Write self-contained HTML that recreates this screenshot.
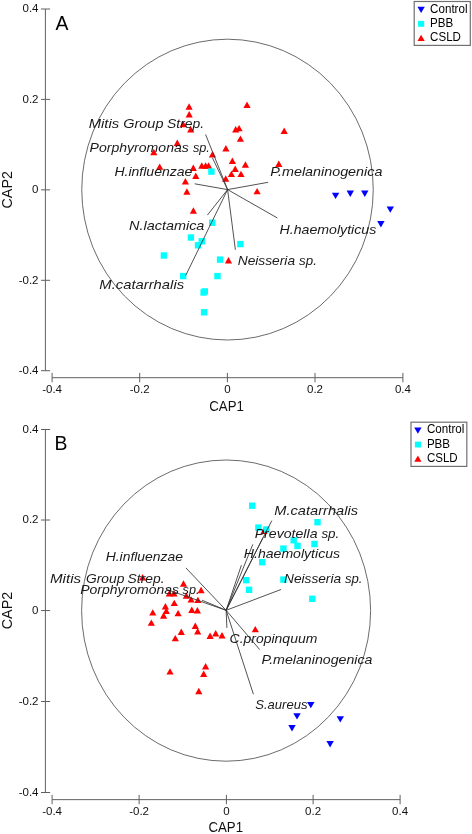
<!DOCTYPE html>
<html><head><meta charset="utf-8"><title>CAP ordination</title>
<style>
html,body{margin:0;padding:0;background:#fff}
svg{display:block;will-change:transform;opacity:0.999}
text{font-family:"Liberation Sans",sans-serif;fill:#111}
.tk{font-size:11.5px}
.al{font-size:14px}
.pl{font-size:19.4px;fill:#000}
.lg{font-size:12px;fill:#000}
.sp{font-size:13.6px;font-style:italic;fill:#1a1a1a}
</style></head><body>
<svg width="472" height="834" viewBox="0 0 472 834">
<rect width="472" height="834" fill="#fff"/>
<g id="panelA">
<line x1="45.4" y1="9.0" x2="45.4" y2="370.7" stroke="#606060" stroke-width="1.0" fill="none"/>
<line x1="41.0" y1="9.0" x2="50.1" y2="9.0" stroke="#606060" stroke-width="1.0" fill="none"/>
<text class="tk" x="38.5" y="12.4" text-anchor="end">0.4</text>
<line x1="41.0" y1="99.4" x2="50.1" y2="99.4" stroke="#606060" stroke-width="1.0" fill="none"/>
<text class="tk" x="38.5" y="102.8" text-anchor="end">0.2</text>
<line x1="41.0" y1="189.85" x2="50.1" y2="189.85" stroke="#606060" stroke-width="1.0" fill="none"/>
<text class="tk" x="38.5" y="193.2" text-anchor="end">0</text>
<line x1="41.0" y1="280.3" x2="50.1" y2="280.3" stroke="#606060" stroke-width="1.0" fill="none"/>
<text class="tk" x="38.5" y="283.7" text-anchor="end">-0.2</text>
<line x1="41.0" y1="370.7" x2="50.1" y2="370.7" stroke="#606060" stroke-width="1.0" fill="none"/>
<text class="tk" x="38.5" y="374.1" text-anchor="end">-0.4</text>
<line x1="52.1" y1="377.7" x2="402.9" y2="377.7" stroke="#606060" stroke-width="1.0" fill="none"/>
<line x1="52.1" y1="372.9" x2="52.1" y2="382.3" stroke="#606060" stroke-width="1.0" fill="none"/>
<text class="tk" x="52.1" y="392.9" text-anchor="middle">-0.4</text>
<line x1="139.7" y1="372.9" x2="139.7" y2="382.3" stroke="#606060" stroke-width="1.0" fill="none"/>
<text class="tk" x="139.7" y="392.9" text-anchor="middle">-0.2</text>
<line x1="227.4" y1="372.9" x2="227.4" y2="382.3" stroke="#606060" stroke-width="1.0" fill="none"/>
<text class="tk" x="227.4" y="392.9" text-anchor="middle">0</text>
<line x1="315.0" y1="372.9" x2="315.0" y2="382.3" stroke="#606060" stroke-width="1.0" fill="none"/>
<text class="tk" x="315.0" y="392.9" text-anchor="middle">0.2</text>
<line x1="402.9" y1="372.9" x2="402.9" y2="382.3" stroke="#606060" stroke-width="1.0" fill="none"/>
<text class="tk" x="402.9" y="392.9" text-anchor="middle">0.4</text>
<text class="al" x="209.3" y="410.5" textLength="34.5" lengthAdjust="spacingAndGlyphs">CAP1</text>
<text class="al" transform="translate(11.8,208.5) rotate(-90)" textLength="37.5" lengthAdjust="spacingAndGlyphs">CAP2</text>
<text class="pl" x="55.6" y="29.7">A</text>
<ellipse cx="227.5" cy="189.6" rx="145.75" ry="150.4" stroke="#5a5a5a" stroke-width="0.9" fill="none"/>
<path d="M185.5 109.7L192.7 109.7L189.1 103.3Z" fill="#ff0000"/>
<path d="M185.6 117.4L192.8 117.4L189.2 111.0Z" fill="#ff0000"/>
<path d="M179.6 127.2L186.8 127.2L183.2 120.8Z" fill="#ff0000"/>
<path d="M187.1 132.5L194.3 132.5L190.7 126.1Z" fill="#ff0000"/>
<path d="M243.4 107.9L250.6 107.9L247.0 101.5Z" fill="#ff0000"/>
<path d="M232.1 132.4L239.3 132.4L235.7 126.0Z" fill="#ff0000"/>
<path d="M235.5 131.3L242.7 131.3L239.1 124.9Z" fill="#ff0000"/>
<path d="M236.8 141.8L244.0 141.8L240.4 135.4Z" fill="#ff0000"/>
<path d="M222.3 151.4L229.5 151.4L225.9 145.0Z" fill="#ff0000"/>
<path d="M173.7 146.0L180.9 146.0L177.3 139.6Z" fill="#ff0000"/>
<path d="M150.2 155.2L157.4 155.2L153.8 148.8Z" fill="#ff0000"/>
<path d="M156.1 169.8L163.3 169.8L159.7 163.4Z" fill="#ff0000"/>
<path d="M208.9 157.5L216.1 157.5L212.5 151.1Z" fill="#ff0000"/>
<path d="M228.8 163.9L236.0 163.9L232.4 157.5Z" fill="#ff0000"/>
<path d="M241.8 167.7L249.0 167.7L245.4 161.3Z" fill="#ff0000"/>
<path d="M231.6 172.0L238.8 172.0L235.2 165.6Z" fill="#ff0000"/>
<path d="M227.8 177.1L235.0 177.1L231.4 170.7Z" fill="#ff0000"/>
<path d="M237.4 177.1L244.6 177.1L241.0 170.7Z" fill="#ff0000"/>
<path d="M222.1 181.7L229.3 181.7L225.7 175.3Z" fill="#ff0000"/>
<path d="M198.2 168.7L205.4 168.7L201.8 162.3Z" fill="#ff0000"/>
<path d="M202.0 168.7L209.2 168.7L205.6 162.3Z" fill="#ff0000"/>
<path d="M205.0 168.7L212.2 168.7L208.6 162.3Z" fill="#ff0000"/>
<path d="M189.7 171.0L196.9 171.0L193.3 164.6Z" fill="#ff0000"/>
<path d="M192.2 178.9L199.4 178.9L195.8 172.5Z" fill="#ff0000"/>
<path d="M181.8 184.4L189.0 184.4L185.4 178.0Z" fill="#ff0000"/>
<path d="M183.3 194.7L190.5 194.7L186.9 188.3Z" fill="#ff0000"/>
<path d="M253.5 194.3L260.7 194.3L257.1 187.9Z" fill="#ff0000"/>
<path d="M280.6 133.9L287.8 133.9L284.2 127.5Z" fill="#ff0000"/>
<path d="M275.2 166.9L282.4 166.9L278.8 160.5Z" fill="#ff0000"/>
<path d="M189.8 213.7L197.0 213.7L193.4 207.3Z" fill="#ff0000"/>
<path d="M224.9 263.5L232.1 263.5L228.5 257.1Z" fill="#ff0000"/>
<rect x="208.2" y="168.4" width="6.4" height="6.4" fill="#00ffff"/>
<rect x="209.0" y="219.5" width="6.4" height="6.4" fill="#00ffff"/>
<rect x="187.7" y="234.3" width="6.4" height="6.4" fill="#00ffff"/>
<rect x="198.6" y="238.1" width="6.4" height="6.4" fill="#00ffff"/>
<rect x="194.8" y="242.1" width="6.4" height="6.4" fill="#00ffff"/>
<rect x="160.7" y="252.3" width="6.4" height="6.4" fill="#00ffff"/>
<rect x="237.2" y="240.9" width="6.4" height="6.4" fill="#00ffff"/>
<rect x="216.9" y="256.4" width="6.4" height="6.4" fill="#00ffff"/>
<rect x="180.0" y="272.9" width="6.4" height="6.4" fill="#00ffff"/>
<rect x="214.3" y="272.9" width="6.4" height="6.4" fill="#00ffff"/>
<rect x="200.4" y="289.3" width="6.4" height="6.4" fill="#00ffff"/>
<rect x="201.6" y="288.2" width="6.4" height="6.4" fill="#00ffff"/>
<rect x="200.9" y="309.1" width="6.4" height="6.4" fill="#00ffff"/>
<path d="M331.9 192.7L339.3 192.7L335.6 199.0Z" fill="#0000ff"/>
<path d="M346.6 190.6L354.0 190.6L350.3 196.9Z" fill="#0000ff"/>
<path d="M361.1 190.6L368.5 190.6L364.8 196.9Z" fill="#0000ff"/>
<path d="M386.6 206.4L394.0 206.4L390.3 212.7Z" fill="#0000ff"/>
<path d="M377.2 221.1L384.6 221.1L380.9 227.4Z" fill="#0000ff"/>
<line x1="227.6" y1="189.6" x2="185.8" y2="275.3" stroke="#333" stroke-width="0.85"/>
<line x1="227.6" y1="189.6" x2="207.4" y2="215.1" stroke="#333" stroke-width="0.85"/>
<line x1="227.6" y1="189.6" x2="235.4" y2="249.8" stroke="#333" stroke-width="0.85"/>
<line x1="227.6" y1="189.6" x2="194.7" y2="183.8" stroke="#333" stroke-width="0.85"/>
<line x1="227.6" y1="189.6" x2="268.1" y2="182.3" stroke="#333" stroke-width="0.85"/>
<line x1="227.6" y1="189.6" x2="277.4" y2="218" stroke="#333" stroke-width="0.85"/>
<line x1="227.6" y1="189.6" x2="205.6" y2="134.5" stroke="#333" stroke-width="0.85"/>
<line x1="227.6" y1="189.6" x2="212.5" y2="158" stroke="#333" stroke-width="0.85"/>
<text class="sp" y="127.8"><tspan x="88.7" textLength="30.4" lengthAdjust="spacingAndGlyphs">Mitis</tspan> <tspan x="123.2" textLength="40.3" lengthAdjust="spacingAndGlyphs">Group</tspan> <tspan x="167.0" textLength="37.1" lengthAdjust="spacingAndGlyphs">Strep.</tspan></text>
<text class="sp" y="151.6"><tspan x="89.6" textLength="99.2" lengthAdjust="spacingAndGlyphs">Porphyromonas</tspan> <tspan x="192.9" textLength="17.0" lengthAdjust="spacingAndGlyphs">sp.</tspan></text>
<text class="sp" x="114.4" y="176.3" textLength="78.0" lengthAdjust="spacingAndGlyphs">H.influenzae</text>
<text class="sp" x="270.3" y="176.2" textLength="112.1" lengthAdjust="spacingAndGlyphs">P.melaninogenica</text>
<text class="sp" x="279.5" y="234.2" textLength="96.8" lengthAdjust="spacingAndGlyphs">H.haemolyticus</text>
<text class="sp" x="129.0" y="230" textLength="75.4" lengthAdjust="spacingAndGlyphs">N.lactamica</text>
<text class="sp" y="265.1"><tspan x="237.7" textLength="57.4" lengthAdjust="spacingAndGlyphs">Neisseria</tspan> <tspan x="299.1" textLength="17.8" lengthAdjust="spacingAndGlyphs">sp.</tspan></text>
<text class="sp" x="99.3" y="289" textLength="84.8" lengthAdjust="spacingAndGlyphs">M.catarrhalis</text>
<rect x="414.2" y="1.5" width="56.1" height="43.9" fill="#fff" stroke="#707070" stroke-width="1.2"/>
<path d="M417.4 6.8L424.8 6.8L421.1 13.1Z" fill="#0000ff"/>
<rect x="418.1" y="20.9" width="6.1" height="5.9" fill="#00ffff"/>
<path d="M417.5 41.1L424.7 41.1L421.1 34.7Z" fill="#ff0000"/>
<text class="lg" x="430.1" y="12.7" textLength="37.4" lengthAdjust="spacingAndGlyphs">Control</text>
<text class="lg" x="430.1" y="26.8" textLength="23.2" lengthAdjust="spacingAndGlyphs">PBB</text>
<text class="lg" x="430.1" y="41.4" textLength="30.8" lengthAdjust="spacingAndGlyphs">CSLD</text>
</g>
<g id="panelB">
<line x1="45.4" y1="429.5" x2="45.4" y2="792.5" stroke="#606060" stroke-width="1.0" fill="none"/>
<line x1="41.0" y1="429.5" x2="50.1" y2="429.5" stroke="#606060" stroke-width="1.0" fill="none"/>
<text class="tk" x="38.5" y="432.9" text-anchor="end">0.4</text>
<line x1="41.0" y1="520.0" x2="50.1" y2="520.0" stroke="#606060" stroke-width="1.0" fill="none"/>
<text class="tk" x="38.5" y="523.4" text-anchor="end">0.2</text>
<line x1="41.0" y1="610.55" x2="50.1" y2="610.55" stroke="#606060" stroke-width="1.0" fill="none"/>
<text class="tk" x="38.5" y="613.9" text-anchor="end">0</text>
<line x1="41.0" y1="701.5" x2="50.1" y2="701.5" stroke="#606060" stroke-width="1.0" fill="none"/>
<text class="tk" x="38.5" y="704.9" text-anchor="end">-0.2</text>
<line x1="41.0" y1="792.5" x2="50.1" y2="792.5" stroke="#606060" stroke-width="1.0" fill="none"/>
<text class="tk" x="38.5" y="795.9" text-anchor="end">-0.4</text>
<line x1="52.1" y1="799.65" x2="400.1" y2="799.65" stroke="#606060" stroke-width="1.0" fill="none"/>
<line x1="52.1" y1="794.85" x2="52.1" y2="804.25" stroke="#606060" stroke-width="1.0" fill="none"/>
<text class="tk" x="52.1" y="814.9" text-anchor="middle">-0.4</text>
<line x1="139.1" y1="794.85" x2="139.1" y2="804.25" stroke="#606060" stroke-width="1.0" fill="none"/>
<text class="tk" x="139.1" y="814.9" text-anchor="middle">-0.2</text>
<line x1="226.4" y1="794.85" x2="226.4" y2="804.25" stroke="#606060" stroke-width="1.0" fill="none"/>
<text class="tk" x="226.4" y="814.9" text-anchor="middle">0</text>
<line x1="313.1" y1="794.85" x2="313.1" y2="804.25" stroke="#606060" stroke-width="1.0" fill="none"/>
<text class="tk" x="313.1" y="814.9" text-anchor="middle">0.2</text>
<line x1="400.1" y1="794.85" x2="400.1" y2="804.25" stroke="#606060" stroke-width="1.0" fill="none"/>
<text class="tk" x="400.1" y="814.9" text-anchor="middle">0.4</text>
<text class="al" x="208.5" y="832.0" textLength="34.5" lengthAdjust="spacingAndGlyphs">CAP1</text>
<text class="al" transform="translate(11.8,629.3) rotate(-90)" textLength="37.5" lengthAdjust="spacingAndGlyphs">CAP2</text>
<text class="pl" x="54.6" y="450.0">B</text>
<ellipse cx="226.1" cy="610.6" rx="144.5" ry="150.6" stroke="#5a5a5a" stroke-width="0.9" fill="none"/>
<path d="M139.0 580.5L146.2 580.5L142.6 574.1Z" fill="#ff0000"/>
<path d="M179.9 586.7L187.1 586.7L183.5 580.3Z" fill="#ff0000"/>
<path d="M197.5 593.2L204.7 593.2L201.1 586.8Z" fill="#ff0000"/>
<path d="M165.7 596.6L172.9 596.6L169.3 590.2Z" fill="#ff0000"/>
<path d="M170.4 596.6L177.6 596.6L174.0 590.2Z" fill="#ff0000"/>
<path d="M182.7 598.7L189.9 598.7L186.3 592.3Z" fill="#ff0000"/>
<path d="M187.5 602.6L194.7 602.6L191.1 596.2Z" fill="#ff0000"/>
<path d="M194.3 603.1L201.5 603.1L197.9 596.7Z" fill="#ff0000"/>
<path d="M170.7 606.1L177.9 606.1L174.3 599.7Z" fill="#ff0000"/>
<path d="M161.8 609.4L169.0 609.4L165.4 603.0Z" fill="#ff0000"/>
<path d="M188.2 612.9L195.4 612.9L191.8 606.5Z" fill="#ff0000"/>
<path d="M193.8 613.4L201.0 613.4L197.4 607.0Z" fill="#ff0000"/>
<path d="M149.2 615.6L156.4 615.6L152.8 609.2Z" fill="#ff0000"/>
<path d="M162.7 614.0L169.9 614.0L166.3 607.6Z" fill="#ff0000"/>
<path d="M160.0 618.7L167.2 618.7L163.6 612.3Z" fill="#ff0000"/>
<path d="M174.5 616.3L181.7 616.3L178.1 609.9Z" fill="#ff0000"/>
<path d="M147.7 625.8L154.9 625.8L151.3 619.4Z" fill="#ff0000"/>
<path d="M191.7 629.0L198.9 629.0L195.3 622.6Z" fill="#ff0000"/>
<path d="M194.1 634.4L201.3 634.4L197.7 628.0Z" fill="#ff0000"/>
<path d="M177.7 635.0L184.9 635.0L181.3 628.6Z" fill="#ff0000"/>
<path d="M171.7 641.3L178.9 641.3L175.3 634.9Z" fill="#ff0000"/>
<path d="M206.5 639.0L213.7 639.0L210.1 632.6Z" fill="#ff0000"/>
<path d="M212.1 636.5L219.3 636.5L215.7 630.1Z" fill="#ff0000"/>
<path d="M218.4 638.4L225.6 638.4L222.0 632.0Z" fill="#ff0000"/>
<path d="M251.7 632.3L258.9 632.3L255.3 625.9Z" fill="#ff0000"/>
<path d="M202.0 669.4L209.2 669.4L205.6 663.0Z" fill="#ff0000"/>
<path d="M200.1 677.0L207.3 677.0L203.7 670.6Z" fill="#ff0000"/>
<path d="M195.2 694.2L202.4 694.2L198.8 687.8Z" fill="#ff0000"/>
<path d="M166.4 674.6L173.6 674.6L170.0 668.2Z" fill="#ff0000"/>
<path d="M260.4 534.0L267.6 534.0L264.0 527.6Z" fill="#ff0000"/>
<rect x="249.0" y="502.5" width="6.4" height="6.4" fill="#00ffff"/>
<rect x="255.2" y="524.4" width="6.4" height="6.4" fill="#00ffff"/>
<rect x="263.2" y="526.3" width="6.4" height="6.4" fill="#00ffff"/>
<rect x="314.3" y="519.0" width="6.4" height="6.4" fill="#00ffff"/>
<rect x="290.5" y="537.1" width="6.4" height="6.4" fill="#00ffff"/>
<rect x="294.3" y="542.7" width="6.4" height="6.4" fill="#00ffff"/>
<rect x="311.3" y="540.8" width="6.4" height="6.4" fill="#00ffff"/>
<rect x="280.2" y="545.4" width="6.4" height="6.4" fill="#00ffff"/>
<rect x="259.0" y="559.0" width="6.4" height="6.4" fill="#00ffff"/>
<rect x="243.0" y="577.0" width="6.4" height="6.4" fill="#00ffff"/>
<rect x="245.9" y="586.6" width="6.4" height="6.4" fill="#00ffff"/>
<rect x="280.2" y="576.4" width="6.4" height="6.4" fill="#00ffff"/>
<rect x="309.1" y="595.6" width="6.4" height="6.4" fill="#00ffff"/>
<path d="M307.1 701.9L314.5 701.9L310.8 708.2Z" fill="#0000ff"/>
<path d="M293.3 713.2L300.7 713.2L297.0 719.5Z" fill="#0000ff"/>
<path d="M288.3 725.1L295.7 725.1L292.0 731.4Z" fill="#0000ff"/>
<path d="M336.6 716.2L344.0 716.2L340.3 722.5Z" fill="#0000ff"/>
<path d="M326.4 741.1L333.8 741.1L330.1 747.4Z" fill="#0000ff"/>
<line x1="226.15" y1="610.3" x2="271.8" y2="520.6" stroke="#333" stroke-width="0.85"/>
<line x1="226.15" y1="610.3" x2="263.0" y2="537.5" stroke="#333" stroke-width="0.85"/>
<line x1="226.15" y1="610.3" x2="252.8" y2="544.4" stroke="#333" stroke-width="0.85"/>
<line x1="226.15" y1="610.3" x2="241.4" y2="565.2" stroke="#333" stroke-width="0.85"/>
<line x1="226.15" y1="610.3" x2="281.0" y2="589.5" stroke="#333" stroke-width="0.85"/>
<line x1="226.15" y1="610.3" x2="185.9" y2="567.9" stroke="#333" stroke-width="0.85"/>
<line x1="226.15" y1="610.3" x2="166.0" y2="589.2" stroke="#333" stroke-width="0.85"/>
<line x1="226.15" y1="610.3" x2="202.0" y2="600.2" stroke="#333" stroke-width="0.85"/>
<line x1="226.15" y1="610.3" x2="226.9" y2="627.9" stroke="#333" stroke-width="0.85"/>
<line x1="226.15" y1="610.3" x2="259.7" y2="649.6" stroke="#333" stroke-width="0.85"/>
<line x1="226.15" y1="610.3" x2="253.4" y2="694.2" stroke="#333" stroke-width="0.85"/>
<text class="sp" x="274.3" y="514.5" textLength="83.7" lengthAdjust="spacingAndGlyphs">M.catarrhalis</text>
<text class="sp" y="537.5"><tspan x="254.7" textLength="62.8" lengthAdjust="spacingAndGlyphs">Prevotella</tspan> <tspan x="321.4" textLength="17.9" lengthAdjust="spacingAndGlyphs">sp.</tspan></text>
<text class="sp" x="243.8" y="557.6" textLength="96.3" lengthAdjust="spacingAndGlyphs">H.haemolyticus</text>
<text class="sp" y="583.1"><tspan x="284.0" textLength="57.1" lengthAdjust="spacingAndGlyphs">Neisseria</tspan> <tspan x="344.9" textLength="17.6" lengthAdjust="spacingAndGlyphs">sp.</tspan></text>
<text class="sp" x="105.7" y="560.8" textLength="77.3" lengthAdjust="spacingAndGlyphs">H.influenzae</text>
<text class="sp" y="582.5"><tspan x="50.0" textLength="31.1" lengthAdjust="spacingAndGlyphs">Mitis</tspan> <tspan x="86.0" textLength="38.4" lengthAdjust="spacingAndGlyphs">Group</tspan> <tspan x="127.6" textLength="36.9" lengthAdjust="spacingAndGlyphs">Strep.</tspan></text>
<text class="sp" y="593.8"><tspan x="80.2" textLength="98.9" lengthAdjust="spacingAndGlyphs">Porphyromonas</tspan> <tspan x="182.6" textLength="16.9" lengthAdjust="spacingAndGlyphs">sp.</tspan></text>
<text class="sp" x="229.6" y="642.8" textLength="87.7" lengthAdjust="spacingAndGlyphs">C.propinquum</text>
<text class="sp" x="261.5" y="663.9" textLength="111.0" lengthAdjust="spacingAndGlyphs">P.melaninogenica</text>
<text class="sp" x="255.3" y="708.6" textLength="52.2" lengthAdjust="spacingAndGlyphs">S.aureus</text>
<rect x="411.0" y="422.2" width="55.8" height="44.2" fill="#fff" stroke="#707070" stroke-width="1.2"/>
<path d="M414.2 427.5L421.6 427.5L417.9 433.8Z" fill="#0000ff"/>
<rect x="414.9" y="441.6" width="6.1" height="5.9" fill="#00ffff"/>
<path d="M414.3 461.8L421.5 461.8L417.9 455.4Z" fill="#ff0000"/>
<text class="lg" x="426.9" y="433.4" textLength="37.4" lengthAdjust="spacingAndGlyphs">Control</text>
<text class="lg" x="426.9" y="447.5" textLength="23.2" lengthAdjust="spacingAndGlyphs">PBB</text>
<text class="lg" x="426.9" y="462.1" textLength="30.8" lengthAdjust="spacingAndGlyphs">CSLD</text>
</g>
</svg>
</body></html>
